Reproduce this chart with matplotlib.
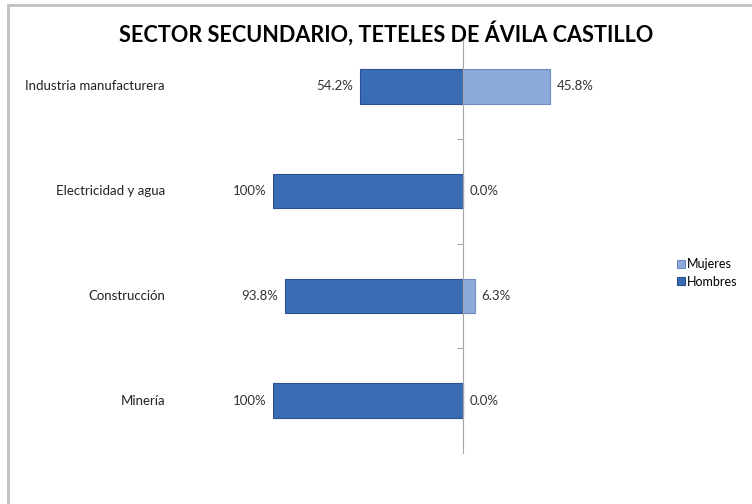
import matplotlib
matplotlib.use("Agg")
import matplotlib.pyplot as plt
from matplotlib.patches import Rectangle
from matplotlib.transforms import blended_transform_factory

plt.rcParams['font.family'] = ['Lato', 'DejaVu Sans']

# data
sectores = ["Industria manufacturera", "Electricidad y agua", "Construcción", "Minería"]
hombres = [54.2, 100, 93.8, 100]
mujeres = [45.8, 0.0, 6.3, 0.0]
hombres_txt = ["54.2%", "100%", "93.8%", "100%"]
mujeres_txt = ["45.8%", "0.0%", "6.3%", "0.0%"]

c_hom = "#3a6cb6"
c_muj = "#8eaadb"

fig = plt.figure(figsize=(7.52, 5.04), dpi=100)
ax = fig.add_axes([273/752, 1-453/504, 380/752, 419/504])

ypos = list(range(len(sectores)))
neg = [-v for v in hombres]
ax.barh(ypos, neg, height=0.33, color=c_hom, edgecolor="#2a5090", linewidth=0.8, label="Hombres")
ax.barh(ypos, mujeres, height=0.33, color=c_muj, edgecolor="#6f8cc0", linewidth=0.8, label="Mujeres")

ax.set_xlim(-100, 100)
ax.set_ylim(3.5, -0.5)

for s in ["top", "right", "bottom"]:
    ax.spines[s].set_visible(False)
ax.spines["left"].set_position(("data", 0))
ax.spines["left"].set_color("#a6a6a6")
ax.set_xticks([])
ax.set_yticks([0.5, 1.5, 2.5])
ax.set_yticklabels([])
ax.tick_params(axis="y", length=4, color="#a6a6a6", direction="out")

for i in ypos:
    ax.text(neg[i] - 3.5, i, hombres_txt[i], ha="right", va="center", fontsize=9.5, color="#333333")
    ax.text(mujeres[i] + 3.5, i, mujeres_txt[i], ha="left", va="center", fontsize=9.5, color="#333333")

trans = blended_transform_factory(ax.transAxes, ax.transData)
for i, name in enumerate(sectores):
    ax.text((165-273)/380, i, name, transform=trans, ha="right", va="center", fontsize=9.5, color="#222222")

fig.text(386/752, 1-33/504, "SECTOR SECUNDARIO, TETELES DE ÁVILA CASTILLO",
         ha="center", va="center", fontsize=15.6, fontweight="bold", color="black")

h, l = ax.get_legend_handles_labels()
fig.legend(h[::-1], l[::-1], loc="center left", bbox_to_anchor=(671/752, 1-273/504),
           frameon=False, fontsize=9, handlelength=0.6, handleheight=0.6,
           handletextpad=0.2, labelspacing=0.4, borderpad=0)

fig.patches.append(Rectangle((8/752, -0.1), 1.2, 1-5/504+0.1, transform=fig.transFigure,
                             fill=False, edgecolor="#bfbfbf", linewidth=2))

fig.savefig("out.png", dpi=100)
